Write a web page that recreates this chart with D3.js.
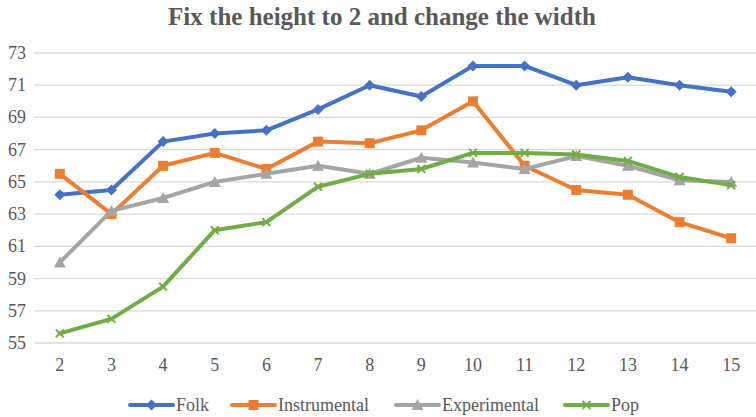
<!DOCTYPE html>
<html><head><meta charset="utf-8"><script src="https://cdn.jsdelivr.net/npm/d3@7"></script>
<style>
  html body svg text { font-family: "Liberation Serif", "Times New Roman", serif !important; }
</style>
</head>
<body style="margin:0">
<script>
// x categories
var categories = [2, 3, 4, 5, 6, 7, 8, 9, 10, 11, 12, 13, 14, 15]
// series values
var folk = [64.2, 64.5, 67.5, 68.0, 68.2, 69.5, 71.0, 70.3, 72.2, 72.2, 71.0, 71.5, 71.0, 70.6]
var instrumental = [65.5, 63.0, 66.0, 66.8, 65.8, 67.5, 67.4, 68.2, 70.0, 66.0, 64.5, 64.2, 62.5, 61.5]
var experimental = [60.0, 63.2, 64.0, 65.0, 65.5, 66.0, 65.5, 66.5, 66.2, 65.8, 66.6, 66.0, 65.1, 65.0]
var pop = [55.6, 56.5, 58.5, 62.0, 62.5, 64.7, 65.5, 65.8, 66.8, 66.8, 66.7, 66.3, 65.3, 64.8]
var yTicks = [55, 57, 59, 61, 63, 65, 67, 69, 71, 73]
var seriesNames = ["Folk", "Instrumental", "Experimental", "Pop"]

var W = 756, H = 417
var FONT = "'Liberation Serif', 'Times New Roman', serif"
var svg = d3.select("body").append("svg").attr("width", W).attr("height", H)

var x = d3.scalePoint().domain(categories).range([34, 757]).padding(0.5)
var y = d3.scaleLinear().domain([55, 73]).range([343, 53])

//* grid
svg.selectAll(".grid").data(yTicks).enter().append("line")
  .attr("x1", 34).attr("x2", W)
  .attr("y1", function(d){ return y(d) }).attr("y2", function(d){ return y(d) })
  .attr("stroke", "#d9d9d9").attr("stroke-width", 1.3)

//* title
svg.selectAll(".title").data(["Fix the height to 2 and change the width"]).enter().append("text")
  .attr("x", 382).attr("y", 25)
  .attr("text-anchor", "middle")
  .attr("font-size", "25px")
  .style("font-family", FONT)
  .style("font-weight", "bold")
  .attr("fill", "#595959")
  .text(function(d){ return d })

// y axis labels
svg.selectAll(".ylab").data(yTicks).enter().append("text")
  .attr("x", 17).attr("y", function(d){ return y(d) + 6 })
  .attr("text-anchor", "middle")
  .attr("font-size", "18px")
  .style("font-family", FONT)
  .attr("fill", "#595959")
  .text(function(d){ return d })

// x axis labels
svg.selectAll(".xlab").data(categories).enter().append("text")
  .attr("x", function(d){ return x(d) }).attr("y", 371)
  .attr("text-anchor", "middle")
  .attr("font-size", "18px")
  .style("font-family", FONT)
  .attr("fill", "#595959")
  .text(function(d){ return d })

var series = [
  {name: seriesNames[0], values: folk, color: "#4472C4", marker: "diamond"},
  {name: seriesNames[1], values: instrumental, color: "#ED7D31", marker: "square"},
  {name: seriesNames[2], values: experimental, color: "#A5A5A5", marker: "triangle"},
  {name: seriesNames[3], values: pop, color: "#70AD47", marker: "x"}
]

function drawMarker(g, type, color, cx, cy) {
  if (type == "diamond") {
    g.append("path").attr("d", "M" + cx + "," + (cy - 5.5) + "L" + (cx + 5.5) + "," + cy + "L" + cx + "," + (cy + 5.5) + "L" + (cx - 5.5) + "," + cy + "Z")
      .attr("fill", color)
  } else if (type == "square") {
    g.append("rect").attr("x", cx - 5).attr("y", cy - 5).attr("width", 10).attr("height", 10).attr("fill", color)
  } else if (type == "triangle") {
    g.append("path").attr("d", "M" + cx + "," + (cy - 6) + "L" + (cx + 6) + "," + (cy + 5) + "L" + (cx - 6) + "," + (cy + 5) + "Z")
      .attr("fill", color)
  } else {
    g.append("path").attr("d", "M" + (cx - 4) + "," + (cy - 4) + "L" + (cx + 4) + "," + (cy + 4) + "M" + (cx + 4) + "," + (cy - 4) + "L" + (cx - 4) + "," + (cy + 4))
      .attr("stroke", color).attr("stroke-width", 2)
  }
}

var line = d3.line()
  .x(function(d, i){ return x(categories[i]) })
  .y(function(d){ return y(d) })

series.forEach(function(s) {
  var g = svg.append("g")
  g.append("path").datum(s.values)
    .attr("d", line)
    .attr("fill", "none").attr("stroke", s.color)
    .attr("stroke-width", 4).attr("stroke-linejoin", "round").attr("stroke-linecap", "round")
  s.values.forEach(function(v, i) {
    drawMarker(g, s.marker, s.color, x(categories[i]), y(v))
  })
})

//* legend
var legX = [130, 232, 396, 565]
series.forEach(function(s, i) {
  var g = svg.append("g")
  g.append("line").attr("x1", legX[i]).attr("x2", legX[i] + 43)
    .attr("y1", 405).attr("y2", 405)
    .attr("stroke", s.color).attr("stroke-width", 4).attr("stroke-linecap", "round")
  drawMarker(g, s.marker, s.color, legX[i] + 21.5, 405)
  g.append("text").attr("x", legX[i] + 46).attr("y", 411)
    .attr("font-size", "18px")
    .style("font-family", FONT)
    .attr("fill", "#595959")
    .text(s.name)
})
</script>
</body>
</html>
